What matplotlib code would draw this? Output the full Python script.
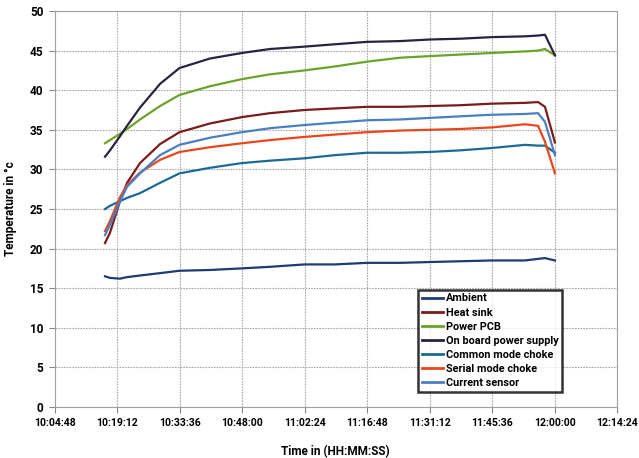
import matplotlib
matplotlib.use("Agg")
import matplotlib.pyplot as plt
from datetime import datetime

# ---- data ----
times = ["10:16:26", "10:17:35", "10:19:54", "10:21:31", "10:24:30", "10:29:07",
         "10:33:36", "10:40:38", "10:48:00", "10:54:27", "11:02:24", "11:09:26",
         "11:16:48", "11:24:24", "11:31:12", "11:38:12", "11:45:36", "11:53:12",
         "11:56:12", "11:57:48", "12:00:06"]

ambient = [16.5, 16.3, 16.2, 16.4, 16.6, 16.9, 17.2, 17.3, 17.5, 17.7, 18.0, 18.0,
           18.2, 18.2, 18.3, 18.4, 18.5, 18.5, 18.7, 18.8, 18.5]
heat_sink = [20.7, 22.0, 26.0, 28.3, 30.8, 33.2, 34.7, 35.8, 36.6, 37.1, 37.5, 37.7,
             37.9, 37.9, 38.0, 38.1, 38.3, 38.4, 38.5, 37.9, 33.4]
power_pcb = [33.3, 33.7, 34.5, 35.1, 36.3, 38.0, 39.4, 40.5, 41.4, 42.0, 42.5, 43.0,
             43.6, 44.1, 44.3, 44.5, 44.7, 44.9, 45.0, 45.2, 44.4]
on_board = [31.6, 32.4, 34.2, 35.5, 37.8, 40.8, 42.8, 44.0, 44.7, 45.2, 45.5, 45.8,
            46.1, 46.2, 46.4, 46.5, 46.7, 46.8, 46.9, 47.0, 44.4]
common_mode = [25.0, 25.4, 26.0, 26.4, 27.0, 28.3, 29.5, 30.2, 30.8, 31.1, 31.4, 31.8,
               32.1, 32.1, 32.2, 32.4, 32.7, 33.1, 33.0, 33.0, 32.1]
serial_mode = [22.2, 23.5, 26.5, 28.0, 29.6, 31.2, 32.2, 32.8, 33.3, 33.7, 34.1, 34.4,
               34.7, 34.9, 35.0, 35.1, 35.3, 35.7, 35.5, 33.5, 29.5]
current_sensor = [21.7, 23.0, 26.0, 27.8, 29.5, 31.8, 33.1, 34.0, 34.7, 35.2, 35.6, 35.9,
                  36.2, 36.3, 36.5, 36.7, 36.9, 37.0, 37.1, 36.0, 31.8]

series_names = ["Ambient", "Heat sink", "Power PCB", "On board power supply",
                "Common mode choke", "Serial mode choke", "Current sensor"]
x_tick_labels = ["10:04:48", "10:19:12", "10:33:36", "10:48:00", "11:02:24",
                 "11:16:48", "11:31:12", "11:45:36", "12:00:00", "12:14:24"]
y_ticks = [0, 5, 10, 15, 20, 25, 30, 35, 40, 45, 50]

colors = ["#1F3B73", "#7B1C1C", "#6AA328", "#2B2140", "#1B6A96", "#E8471C", "#4A7EC2"]

plt.rcParams["font.family"] = ["Roboto", "DejaVu Sans"]


def to_dt(s):
    return datetime.strptime("2000-01-01 " + s, "%Y-%m-%d %H:%M:%S")


t = [to_dt(s) for s in times]
xt = [to_dt(s) for s in x_tick_labels]

fig = plt.figure(figsize=(6.39, 4.58), dpi=100)
ax = fig.add_axes([0.0853, 0.1114, 0.8803, 0.8646])

all_series = [ambient, heat_sink, power_pcb, on_board, common_mode, serial_mode, current_sensor]
for vals, name, c in zip(all_series, series_names, colors):
    ax.plot(t, vals, color=c, lw=1.6, label=name)

ax.set_xlim(xt[0], xt[-1])
ax.set_ylim(0, 50)
ax.set_xticks(xt)
ax.set_xticklabels(x_tick_labels, fontsize=7.6, fontweight="bold")
ax.set_yticks(y_ticks)
ax.set_yticklabels([str(v) for v in y_ticks], fontsize=8.5, fontweight="bold")
ax.tick_params(axis="both", length=4, color="#888888", pad=4)
ax.grid(True, color="#A8A8A8", linestyle=(0, (1.5, 1)), linewidth=0.8)
for sp in ax.spines.values():
    sp.set_color("#A0A0A0")
    sp.set_linewidth(0.8)

ax.set_xlabel("Time in (HH:MM:SS)", fontsize=8.5, fontweight="bold", labelpad=12)
ax.set_ylabel("Temperature in °c", fontsize=8.5, fontweight="bold", labelpad=9)

leg = ax.legend(loc="lower left", bbox_to_anchor=(0.646, 0.038),
                prop={"weight": "bold", "size": 7.8}, frameon=True, fancybox=False,
                handlelength=2.0, handletextpad=0.2, borderpad=0.35, labelspacing=0.38,
                borderaxespad=0)
leg.get_frame().set_edgecolor("black")
leg.get_frame().set_linewidth(1.8)
for line in leg.get_lines():
    line.set_linewidth(2.0)

fig.savefig("out.png", dpi=100)
